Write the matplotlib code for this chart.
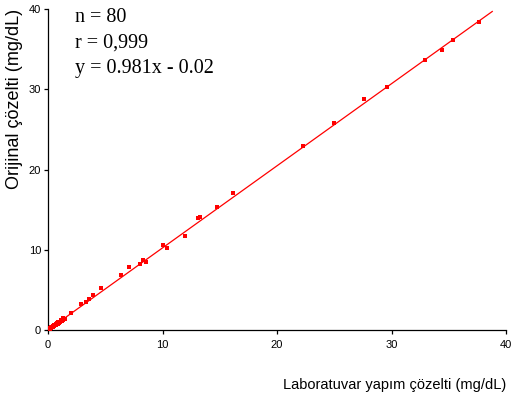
import matplotlib
matplotlib.use("Agg")
import matplotlib.pyplot as plt

# Data
lab_x = [37.64, 35.37, 34.38, 32.93, 29.58, 27.57, 24.98, 22.30,
         16.13, 14.76, 13.28, 13.13, 11.99, 10.07, 10.39,
         8.30, 8.53, 8.03, 7.10, 6.40, 4.66, 3.96, 3.61, 3.35, 2.91,
         2.04, 1.34, 1.45, 1.20, 1.10,
         1.00, 0.95, 0.90, 0.85, 0.80, 0.78, 0.75, 0.70, 0.68, 0.65,
         0.62, 0.60, 0.58, 0.55, 0.52, 0.50, 0.48, 0.45, 0.43, 0.40,
         0.38, 0.36, 0.34, 0.32, 0.30, 0.28, 0.26, 0.24, 0.22, 0.20,
         0.18, 0.16, 0.14, 0.12, 0.10, 0.08, 0.06, 0.05, 1.05, 0.92,
         0.88, 0.72, 0.66, 0.57, 0.46, 0.35, 0.25, 0.15, 1.30, 1.15]
orig_y = [38.38, 36.14, 34.85, 33.60, 30.28, 28.79, 25.83, 22.97,
          17.03, 15.37, 14.04, 13.92, 11.67, 10.59, 10.17,
          8.68, 8.43, 8.22, 7.81, 6.85, 5.19, 4.36, 3.86, 3.49, 3.24,
          2.08, 1.53, 1.40, 1.10, 1.20,
          1.05, 0.90, 0.98, 0.80, 0.85, 0.75, 0.82, 0.70, 0.74, 0.62,
          0.68, 0.58, 0.62, 0.55, 0.57, 0.48, 0.52, 0.45, 0.46, 0.40,
          0.42, 0.36, 0.37, 0.32, 0.33, 0.28, 0.29, 0.24, 0.25, 0.20,
          0.21, 0.16, 0.17, 0.12, 0.13, 0.08, 0.07, 0.05, 1.00, 0.95,
          0.86, 0.78, 0.64, 0.60, 0.50, 0.38, 0.27, 0.18, 1.25, 1.18]

fit_slope = 1.023
fit_intercept = 0.0
fit_x_range = [0.0, 38.8]

stats_lines = ["n = 80", "r = 0,999", "y = 0.981x - 0.02"]
x_label = "Laboratuvar yapım çözelti (mg/dL)"
y_label = "Orijinal çözelti (mg/dL)"
ticks = [0, 10, 20, 30, 40]

fig = plt.figure(figsize=(5.12, 3.96), dpi=100)
ax = fig.add_axes([48/512, 66/396, 458/512, 321/396])

ax.plot(fit_x_range, [fit_slope*v + fit_intercept for v in fit_x_range],
        color="#ff0000", lw=0.9, zorder=2)
ax.scatter(lab_x, orig_y, marker="s", s=5, color="#ff0000", lw=0, zorder=3)

ax.set_xlim(0, 40)
ax.set_ylim(0, 40)
ax.set_xticks(ticks)
ax.set_yticks(ticks)
for s in ["top", "right"]:
    ax.spines[s].set_visible(False)
for s in ["left", "bottom"]:
    ax.spines[s].set_linewidth(0.9)
ax.tick_params(direction="out", length=3, width=0.9, pad=2,
               labelsize=8, labelfontfamily="Liberation Sans")
ax.tick_params(axis="x", pad=4)

ax.set_xlabel(x_label, loc="right", fontsize=10.5, family="Liberation Sans", labelpad=20)
ax.set_ylabel(y_label, loc="top", fontsize=13, family="Liberation Sans", labelpad=4)

for i, t in enumerate(stats_lines):
    fig.text(75/512, 1 - (18 + 25*i)/396, t, fontsize=14.5, family="Liberation Serif",
             va="center", ha="left")

fig.savefig("out.png", dpi=100)
